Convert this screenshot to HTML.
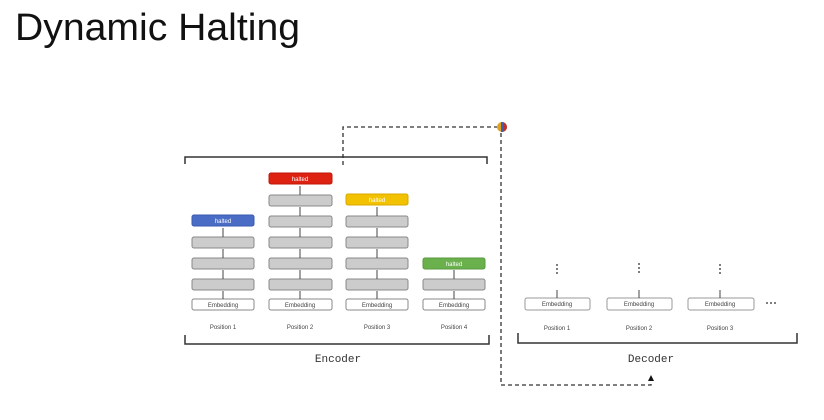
<!DOCTYPE html>
<html><head><style>
body{margin:0;background:#fff;width:824px;height:415px;overflow:hidden;font-family:"Liberation Sans",sans-serif}
</style></head><body>
<svg width="824" height="415" xmlns="http://www.w3.org/2000/svg" font-family="Liberation Sans, sans-serif">
<text x="15" y="40" font-size="38" fill="#111" textLength="285" lengthAdjust="spacingAndGlyphs">Dynamic Halting</text>
<!-- top bracket -->
<path d="M185,164 V157 H487 V164" fill="none" stroke="#333" stroke-width="1.5"/>
<path d="M343,165 V127 H497" fill="none" stroke="#333" stroke-width="1.3" stroke-dasharray="4,3"/>
<circle cx="502" cy="127" r="5" fill="#e0a020"/>
<path d="M502,122 A5,5 0 0 1 502,132z" fill="#c03030"/>
<rect x="501" y="122" width="2" height="10" fill="#4060b0"/>
<path d="M501,133 V385 H651 V380" fill="none" stroke="#333" stroke-width="1.3" stroke-dasharray="4,3"/>
<path d="M648,381 L651,375 L654,381z" fill="#111"/>
<!-- encoder bracket -->
<path d="M185,335 V344 H489 V335" fill="none" stroke="#333" stroke-width="1.5"/>
<text x="338" y="362" font-size="11" font-family="Liberation Mono, monospace" text-anchor="middle" fill="#333">Encoder</text>
<g stroke="#888" stroke-width="1">
<rect x="192" y="299" width="62" height="11" rx="2" fill="#fff"/>
<rect x="192" y="279" width="62" height="11" rx="2" fill="#ccc"/>
<rect x="192" y="258" width="62" height="11" rx="2" fill="#ccc"/>
<rect x="192" y="237" width="62" height="11" rx="2" fill="#ccc"/>
<rect x="192" y="215" width="62" height="11" rx="2" fill="#4a6cc4" stroke="#3a5ab0"/>
<rect x="269" y="299" width="63" height="11" rx="2" fill="#fff"/>
<rect x="269" y="279" width="63" height="11" rx="2" fill="#ccc"/>
<rect x="269" y="258" width="63" height="11" rx="2" fill="#ccc"/>
<rect x="269" y="237" width="63" height="11" rx="2" fill="#ccc"/>
<rect x="269" y="216" width="63" height="11" rx="2" fill="#ccc"/>
<rect x="269" y="195" width="63" height="11" rx="2" fill="#ccc"/>
<rect x="269" y="173" width="63" height="11" rx="2" fill="#dd2211" stroke="#c01808"/>
<rect x="346" y="299" width="62" height="11" rx="2" fill="#fff"/>
<rect x="346" y="279" width="62" height="11" rx="2" fill="#ccc"/>
<rect x="346" y="258" width="62" height="11" rx="2" fill="#ccc"/>
<rect x="346" y="237" width="62" height="11" rx="2" fill="#ccc"/>
<rect x="346" y="216" width="62" height="11" rx="2" fill="#ccc"/>
<rect x="346" y="194" width="62" height="11" rx="2" fill="#f2c200" stroke="#d8a800"/>
<rect x="423" y="299" width="62" height="11" rx="2" fill="#fff"/>
<rect x="423" y="279" width="62" height="11" rx="2" fill="#ccc"/>
<rect x="423" y="258" width="62" height="11" rx="2" fill="#6ab04c" stroke="#5a9a40"/>
</g>
<g stroke="#999" fill="#fff">
<rect x="525" y="298" width="65" height="12" rx="2"/>
<rect x="607" y="298" width="65" height="12" rx="2"/>
<rect x="688" y="298" width="66" height="12" rx="2"/>
</g>
<g stroke="#444" stroke-width="1">
<path d="M223,299V291M223,279V270M223,258V249M223,237V228"/>
<path d="M300,299V291M300,279V270M300,258V249M300,237V228M300,216V207M300,195V186"/>
<path d="M377,299V291M377,279V270M377,258V249M377,237V228M377,216V207"/>
<path d="M454,299V291M454,279V270"/>
<path d="M557,298V290M639,298V290M720,298V290"/>
</g>
<g font-size="6" fill="#444" text-anchor="middle">
<text x="223" y="307">Embedding</text><text x="300" y="307">Embedding</text><text x="377" y="307">Embedding</text><text x="454" y="307">Embedding</text>
<text x="223" y="329">Position 1</text><text x="300" y="329">Position 2</text><text x="377" y="329">Position 3</text><text x="454" y="329">Position 4</text>
<text x="557" y="306">Embedding</text><text x="639" y="306">Embedding</text><text x="720" y="306">Embedding</text>
<text x="557" y="330">Position 1</text><text x="639" y="330">Position 2</text><text x="720" y="330">Position 3</text>
</g>
<g font-size="6" fill="#fff" text-anchor="middle">
<text x="223" y="223">halted</text><text x="300" y="181">halted</text><text x="377" y="202">halted</text><text x="454" y="266">halted</text>
</g>
<g fill="#555">
<circle cx="557" cy="265" r="1"/><circle cx="557" cy="269" r="1"/><circle cx="557" cy="273" r="1"/>
<circle cx="639" cy="264" r="1"/><circle cx="639" cy="268" r="1"/><circle cx="639" cy="272" r="1"/>
<circle cx="720" cy="265" r="1"/><circle cx="720" cy="269" r="1"/><circle cx="720" cy="273" r="1"/>
<circle cx="767" cy="303" r="1"/><circle cx="771" cy="303" r="1"/><circle cx="775" cy="303" r="1"/>
</g>
<path d="M518,333 V343 H797 V333" fill="none" stroke="#333" stroke-width="1.5"/>
<text x="651" y="362" font-size="11" font-family="Liberation Mono, monospace" text-anchor="middle" fill="#333">Decoder</text>
</svg>
</body></html>
